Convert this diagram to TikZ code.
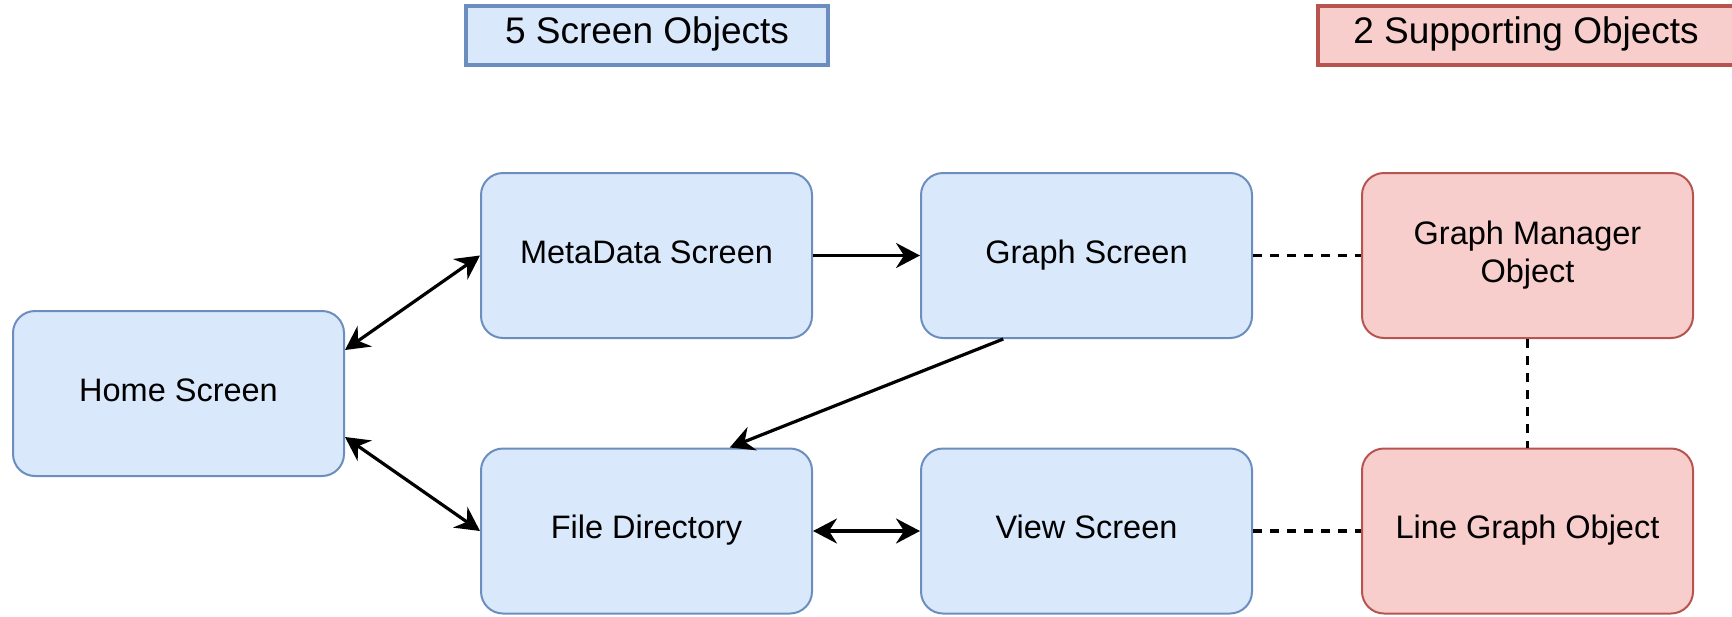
\documentclass[tikz,border=0pt]{standalone}
\usepackage{fontspec}
\setmainfont{Liberation Sans}
\usetikzlibrary{arrows.meta,calc}
\definecolor{bfill}{HTML}{DAE8FC}
\definecolor{bline}{HTML}{6C8EBF}
\definecolor{rfill}{HTML}{F8CECC}
\definecolor{rline}{HTML}{B85450}
\begin{document}
\begin{tikzpicture}[x=0.5pt,y=-0.5pt,
  box/.style={rounded corners=11pt, minimum width=165.5pt, minimum height=82.5pt, line width=1pt,
    font=\fontsize{16.25}{19}\selectfont, align=center, inner sep=0pt},
  bluebox/.style={box, fill=bfill, draw=bline},
  redbox/.style={box, fill=rfill, draw=rline},
  hdr/.style={line width=2pt, font=\fontsize{18.5}{22}\selectfont, inner sep=0pt, minimum height=29.5pt},
  link/.style={line width=1.6pt, -{Stealth[length=12pt,width=12.5pt,inset=4pt]}},
  twoway/.style={line width=1.6pt, {Stealth[length=12pt,width=12.5pt,inset=4pt]}-{Stealth[length=12pt,width=12.5pt,inset=4pt]}},
  dashlink/.style={line width=1.6pt, dash pattern=on 4.5pt off 4pt}
]
\useasboundingbox (0,0) rectangle (1732,616);

% headers
\node[hdr, fill=bfill, draw=bline, minimum width=181pt] (hscreen) at (647,35) {5 Screen Objects\strut};
\node[hdr, fill=rfill, draw=rline, minimum width=208pt] (hsupport) at (1526,35) {2 Supporting Objects\strut};

% boxes
\node[bluebox] (meta) at (646.5,255.5) {MetaData Screen\strut};
\node[bluebox] (graph) at (1086.5,255.5) {Graph Screen\strut};
\node[redbox] (manager) at (1527.5,255.5) {Graph Manager\strut\\Object\strut};
\node[bluebox] (home) at (178.5,393.5) {Home Screen\strut};
\node[bluebox] (file) at (646.5,531) {File Directory\strut};
\node[bluebox] (view) at (1086.5,531) {View Screen\strut};
\node[redbox] (line) at (1527.5,531) {Line Graph Object\strut};

% connectors
\draw[twoway] ([yshift=21.75pt]home.east) -- (meta.west);
\draw[twoway] ([yshift=-21.75pt]home.east) -- (file.west);
\draw[link] (meta.east) -- (graph.west);
\draw[link] ($(graph.south west)!0.25!(graph.south east)$) -- ($(file.north west)!0.75!(file.north east)$);
\draw[twoway] (file.east) -- (view.west);
\draw[dashlink] (graph.east) -- (manager.west);
\draw[dashlink] (view.east) -- (line.west);
\draw[dashlink] (manager.south) -- (line.north);
\end{tikzpicture}
\end{document}
